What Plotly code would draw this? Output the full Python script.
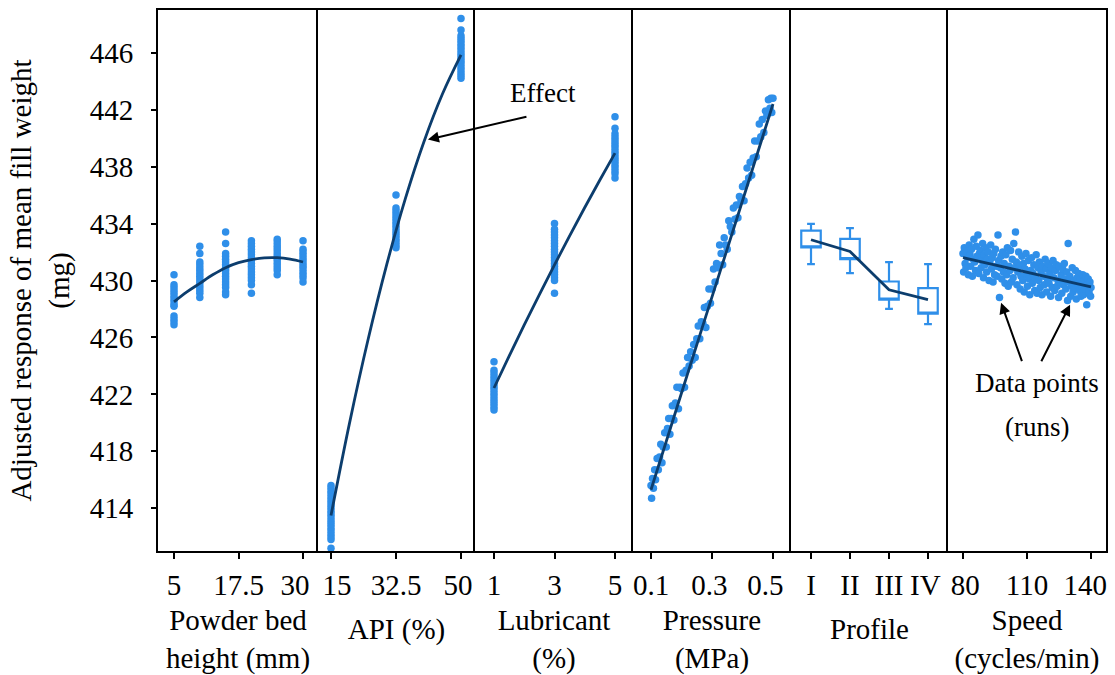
import plotly.graph_objects as go
from plotly.subplots import make_subplots

# ---------------- data ----------------
# Panel 1: powder bed height (mm)
pbh_x = [5]*14 + [10]*15 + [15]*17 + [20]*17 + [25]*13 + [30]*13
pbh_y = [430.4, 429.7, 429.5, 429.3, 429.1, 428.9, 428.7, 428.5, 428.3, 428.2, 427.5, 427.3, 427.1, 426.9,
         432.4, 431.9, 431.3, 431.1, 430.9, 430.7, 430.5, 430.3, 430.1, 429.9, 429.7, 429.5, 429.3, 429.1, 428.8,
         433.4, 432.6, 431.9, 431.7, 431.5, 431.3, 431.1, 430.9, 430.7, 430.5, 430.3, 430.1, 429.9, 429.7, 429.5, 429.2, 429.0,
         432.8, 432.6, 432.4, 432.2, 432.0, 431.8, 431.6, 431.4, 431.2, 431.0, 430.8, 430.6, 430.4, 430.2, 430.0, 429.7, 429.1,
         432.9, 432.7, 432.5, 432.3, 432.1, 431.9, 431.7, 431.5, 431.3, 431.1, 430.9, 430.7, 430.4,
         432.8, 432.2, 432.0, 431.8, 431.6, 431.4, 431.2, 431.0, 430.8, 430.6, 430.4, 430.2, 429.9]
pbh_fit_x = [5, 7.5, 10, 12.5, 15, 17.5, 20, 22.5, 25, 27.5, 30]
pbh_fit_y = [428.5, 429.2, 429.8, 430.4, 430.9, 431.25, 431.47, 431.59, 431.6, 431.5, 431.3]

# Panel 2: API (%)
api_x = [15]*21 + [32.5]*16 + [50]*18
api_y = [415.6, 415.4, 415.2, 415.0, 414.8, 414.6, 414.4, 414.2, 414.0, 413.8, 413.6, 413.4, 413.2, 413.0,
         412.8, 412.6, 412.4, 412.2, 412.0, 411.8, 411.2,
         436.0, 435.1, 434.9, 434.7, 434.5, 434.3, 434.1, 433.9, 433.7, 433.5, 433.3, 433.1, 432.9, 432.7, 432.5, 432.3,
         448.4, 447.6, 447.2, 447.0, 446.8, 446.6, 446.4, 446.2, 446.0, 445.8, 445.6, 445.4, 445.2, 445.0,
         444.8, 444.6, 444.4, 444.2]
api_fit_x = [15, 20, 25, 30, 35, 40, 45, 50]
api_fit_y = [413.5, 420.0, 425.87, 431.11, 435.73, 439.73, 443.1, 445.85]

# Panel 3: lubricant (%)
lub_x = [1]*16 + [3]*21 + [5]*18
lub_y = [424.3, 423.7, 423.5, 423.3, 423.1, 422.9, 422.7, 422.5, 422.3, 422.1, 421.9, 421.7, 421.5, 421.3, 421.1, 420.9,
         434.0, 433.6, 433.4, 433.2, 433.0, 432.8, 432.6, 432.4, 432.2, 432.0, 431.8, 431.6, 431.4, 431.2, 431.0,
         430.8, 430.6, 430.4, 430.2, 430.0, 429.1,
         441.5, 440.7, 440.3, 440.1, 439.9, 439.7, 439.5, 439.3, 439.1, 438.9, 438.7, 438.5, 438.3, 438.1,
         437.9, 437.7, 437.5, 437.2]
lub_fit_x = [1, 1.5, 2, 2.5, 3, 3.5, 4, 4.5, 5]
lub_fit_y = [422.45, 424.69, 426.88, 429.01, 431.1, 433.14, 435.13, 437.06, 438.95]

# Panel 4: pressure (MPa)
pre_x = [0.100, 0.102, 0.105, 0.108, 0.112, 0.115, 0.120, 0.124, 0.128, 0.132, 0.136, 0.140, 0.145, 0.150,
         0.154, 0.158, 0.162, 0.166, 0.170, 0.175, 0.180, 0.185, 0.190, 0.195, 0.200, 0.205, 0.210, 0.215,
         0.220, 0.225, 0.230, 0.235, 0.240, 0.245, 0.250, 0.255, 0.260, 0.265, 0.270, 0.275, 0.280, 0.285,
         0.290, 0.295, 0.300, 0.305, 0.310, 0.315, 0.320, 0.325, 0.330, 0.335, 0.340, 0.345, 0.350, 0.355,
         0.360, 0.365, 0.370, 0.375, 0.380, 0.385, 0.390, 0.395, 0.400, 0.405, 0.410, 0.415, 0.420, 0.425,
         0.430, 0.435, 0.440, 0.445, 0.450, 0.455, 0.460, 0.465, 0.470, 0.475, 0.480, 0.485, 0.490, 0.493,
         0.496, 0.500]
pre_y = [415.6, 414.7, 416.1, 415.4, 416.7, 416.0, 417.5, 416.7, 417.6, 418.5, 417.2, 418.3, 419.3, 418.3,
         419.6, 420.3, 419.2, 420.3, 421.2, 420.2, 421.4, 422.5, 421.0, 422.5, 422.4, 423.5, 422.5, 423.7,
         424.6, 424.0, 425.0, 424.4, 425.5, 424.6, 425.9, 426.8, 425.9, 427.1, 427.0, 428.1, 426.7, 428.2,
         429.4, 428.4, 429.4, 430.8, 429.9, 431.2, 430.9, 432.5, 431.9, 431.1, 433.0, 432.5, 432.2, 434.2,
         433.8, 433.4, 435.1, 434.3, 435.3, 434.4, 435.9, 435.6, 436.6, 435.6, 436.8, 437.9, 437.2, 438.3,
         437.4, 438.6, 439.8, 438.7, 439.8, 441.0, 440.1, 441.3, 440.4, 441.9, 441.6, 442.7, 442.1, 442.8,
         441.8, 442.8]
pre_fit_x = [0.1, 0.2, 0.3, 0.4, 0.5]
pre_fit_y = [415.3, 422.1, 428.85, 435.6, 442.4]

# Panel 5: profile (box summaries)
prof_x = [1, 2, 3, 4]
prof_labels = ["I", "II", "III", "IV"]
prof_low = [431.15, 430.52, 428.0, 426.94]
prof_q1 = [432.32, 431.5, 428.65, 427.67]
prof_q3 = [433.5, 432.93, 429.93, 429.47]
prof_high = [433.98, 433.68, 431.29, 431.15]
prof_fit_y = [432.86, 432.04, 429.35, 428.65]

# Panel 6: speed (cycles/min)
spd_x = [80.0, 80.3, 80.6, 81.0, 81.4, 81.8, 82.2, 82.5, 82.9, 83.3, 83.6, 84.0, 84.4, 84.8, 85.1, 85.5,
         85.9, 86.2, 86.6, 87.0, 87.4, 87.7, 88.1, 88.5, 88.8, 89.2, 89.6, 90.0, 90.3, 90.7, 91.1, 91.5,
         91.8, 92.2, 92.6, 93.0, 93.3, 93.7, 94.1, 94.4, 94.8, 95.2, 95.6, 96.0, 96.4, 96.7, 97.1, 97.5,
         97.8, 98.2, 98.6, 99.0, 99.3, 99.7, 100.1, 100.5, 100.8, 101.2, 101.6, 102.0, 102.3, 102.7, 103.1,
         103.5, 103.8, 104.2, 104.6, 105.0, 105.3, 105.7, 106.1, 106.5, 106.8, 107.2, 107.6, 108.0, 108.3,
         108.7, 109.1, 109.5, 109.8, 110.2, 110.6, 111.0, 111.3, 111.7, 112.1, 112.5, 112.8, 113.2, 113.6,
         114.0, 114.3, 114.7, 115.1, 115.5, 115.8, 116.2, 116.6, 117.0, 117.3, 117.7, 118.1, 118.5, 118.8,
         119.2, 119.6, 120.0, 120.3, 120.7, 121.1, 121.5, 121.8, 122.2, 122.6, 123.0, 123.3, 123.7, 124.1,
         124.5, 124.8, 125.2, 125.6, 126.0, 126.3, 126.7, 127.1, 127.5, 127.8, 128.2, 128.6, 129.0, 129.3,
         129.7, 130.1, 130.5, 130.8, 131.2, 131.6, 132.0, 132.3, 132.7, 133.1, 133.5, 133.8, 134.2, 134.6,
         135.0, 135.3, 135.7, 136.1, 136.5, 136.8, 137.2, 137.6, 138.0, 138.3, 138.7, 139.1, 139.5, 139.8,
         140.0]
spd_y = [431.9, 430.6, 432.3, 431.2, 430.9, 432.0, 431.6, 430.4, 432.5, 431.8, 431.0, 432.2, 430.3, 431.5,
         432.9, 431.3, 430.7, 432.4, 431.7, 433.2, 430.5, 431.9, 432.1, 430.9, 431.4, 432.6, 430.2, 431.8,
         431.1, 432.3, 430.6, 431.5, 432.0, 430.0, 431.3, 432.5, 430.8, 431.6, 429.9, 431.9, 430.4, 432.2,
         431.0, 430.3, 433.2, 431.4, 428.8, 430.9, 431.7, 430.1, 432.0, 430.6, 431.2, 429.8, 431.8, 430.4,
         432.3, 429.6, 431.0, 430.7, 432.1, 429.9, 431.5, 430.2, 432.6, 430.9, 433.4, 431.3, 429.7, 430.6,
         432.0, 431.0, 429.4, 430.3, 431.7, 430.0, 431.2, 429.2, 430.8, 431.9, 430.4, 429.6, 431.4, 430.1,
         429.0, 430.7, 431.6, 429.8, 430.5, 431.1, 429.3, 430.2, 431.8, 429.1, 430.9, 430.0, 431.3, 429.5,
         430.6, 429.0, 431.0, 430.3, 429.7, 431.5, 430.8, 429.2, 430.1, 431.2, 429.8, 430.5, 428.9, 430.9,
         429.5, 431.4, 430.2, 429.3, 430.7, 431.1, 429.6, 430.0, 428.8, 431.0, 429.9, 430.4, 429.1, 430.8,
         429.7, 431.2, 430.1, 429.4, 430.6, 428.6, 432.6, 429.9, 430.3, 428.9, 429.6, 430.9, 429.2, 430.0,
         429.5, 430.7, 428.7, 430.2, 429.8, 430.5, 429.3, 430.1, 428.9, 429.6, 430.4, 429.0, 430.0, 429.4,
         430.3, 428.3, 429.7, 430.1, 429.2, 429.9, 428.9, 429.5]
spd_fit_x = [80, 140]
spd_fit_y = [431.6, 429.55]

# axis setup
x_titles = ["Powder bed<br>height (mm)", "API (%)", "Lubricant<br>(%)", "Pressure<br>(MPa)",
            "Profile", "Speed<br>(cycles/min)"]
x_ranges = [[1.9, 32.9], [11.5, 53.77], [0.372, 5.595], [0.041, 0.559], [0.487, 4.513], [72.97, 147.03]]
# tick marks (regular spacing: first tick, step)
x_tick0 = [5, 15, 1, 0.1, 1, 80]
x_dtick = [12.5, 17.5, 2, 0.2, 1, 30]
# label centres (slightly nudged where neighbouring labels would collide)
x_labelpos = [[5.0001, 17.5001, 28.45], [16.62, 32.5001, 49.19], [1.0001, 3.0001, 5.0001],
              [0.10001, 0.2911, 0.4748], [1.0001, 2.0001, 3.0001, 3.93], [81.08, 110.0001, 137.33]]
x_ticktext = [["5", "17.5", "30"], ["15", "32.5", "50"], ["1", "3", "5"], ["0.1", "0.3", "0.5"],
              prof_labels, ["80", "110", "140"]]
y_tickvals = [414, 418, 422, 426, 430, 434, 438, 442, 446]

DOT = "#2f8fe9"
LINE = "#0c3d6d"
FONT = "Liberation Serif"

fig = make_subplots(rows=1, cols=6, shared_yaxes=True, horizontal_spacing=0,
                    column_widths=[160, 157, 158, 158, 157, 158])

def dots(x, y, col):
    fig.add_trace(go.Scatter(x=x, y=y, mode="markers",
                             marker=dict(color=DOT, size=7.5, line=dict(width=0)),
                             hoverinfo="skip"), row=1, col=col)

def fit(x, y, col, shape="spline"):
    fig.add_trace(go.Scatter(x=x, y=y, mode="lines",
                             line=dict(color=LINE, width=2.8, shape=shape),
                             hoverinfo="skip"), row=1, col=col)

dots(pbh_x, pbh_y, 1); fit(pbh_fit_x, pbh_fit_y, 1)
dots(api_x, api_y, 2); fit(api_fit_x, api_fit_y, 2)
dots(lub_x, lub_y, 3); fit(lub_fit_x, lub_fit_y, 3)
dots(pre_x, pre_y, 4); fit(pre_fit_x, pre_fit_y, 4)

fig.add_trace(go.Box(x=prof_x, q1=prof_q1, median=prof_q1, q3=prof_q3,
                     lowerfence=prof_low, upperfence=prof_high,
                     width=0.5, whiskerwidth=0.4, boxpoints=False,
                     fillcolor="rgba(255,255,255,0)",
                     line=dict(color=DOT, width=2.2), hoverinfo="skip"), row=1, col=5)
fit(prof_x, prof_fit_y, 5, shape="linear")

dots(spd_x, spd_y, 6); fit(spd_fit_x, spd_fit_y, 6, shape="linear")

for i in range(6):
    fig.update_xaxes(row=1, col=i + 1, range=x_ranges[i], tickmode="array",
                     tickvals=x_labelpos[i], ticktext=x_ticktext[i], ticks="",
                     ticklabelstandoff=7, ticklabeloverflow="allow",
                     minor=dict(ticks="outside", tick0=x_tick0[i], dtick=x_dtick[i], ticklen=6,
                                tickwidth=1.5, tickcolor="black", showgrid=False),
                     showline=True, mirror=True, linecolor="black",
                     linewidth=2, showgrid=False, zeroline=False, automargin=False,
                     tickfont=dict(family=FONT, size=29, color="black"),
                     title=dict(text=x_titles[i], standoff=19,
                                font=dict(family=FONT, size=29, color="black")))
    fig.update_yaxes(row=1, col=i + 1, range=[411, 449], showline=True, mirror=False,
                     linecolor="black", linewidth=1.5, showgrid=False, zeroline=False,
                     automargin=False)

fig.update_yaxes(row=1, col=1, tickvals=y_tickvals, ticks="outside", ticklen=5, tickwidth=1.5,
                 tickcolor="black", linewidth=2, ticklabelstandoff=12,
                 tickfont=dict(family=FONT, size=29, color="black"),
                 title=dict(text="Adjusted response of mean fill weight<br>(mg)", standoff=12,
                            font=dict(family=FONT, size=29, color="black")))
for i in range(2, 7):
    fig.update_yaxes(row=1, col=i, ticks="", showticklabels=False)
fig.update_yaxes(row=1, col=6, mirror=True)

ann_font = dict(family=FONT, size=27, color="black")
tiny = dict(family=FONT, size=1, color="black")
fig.add_annotation(x=41.1, y=439.9, xref="x2", yref="y2", text="", showarrow=True, font=tiny,
                   borderpad=0, ax=99, ay=-23, arrowhead=2, arrowsize=1.1, arrowwidth=2,
                   arrowcolor="black")
fig.add_annotation(x=(543 - 158) / 948, y=(551 - 93) / 541, xref="paper", yref="paper",
                   xanchor="center", yanchor="middle", text="Effect", showarrow=False, font=ann_font)
fig.add_annotation(x=97.85, y=428.44, xref="x6", yref="y6", text="", showarrow=True, font=tiny,
                   borderpad=0, ax=21, ay=59, arrowhead=2, arrowsize=1.1, arrowwidth=2,
                   arrowcolor="black")
fig.add_annotation(x=130.2, y=428.3, xref="x6", yref="y6", text="", showarrow=True, font=tiny,
                   borderpad=0, ax=-29, ay=57, arrowhead=2, arrowsize=1.1, arrowwidth=2,
                   arrowcolor="black")
fig.add_annotation(x=(1037 - 158) / 948, y=(551 - 383) / 541, xref="paper", yref="paper",
                   xanchor="center", yanchor="middle", text="Data points", showarrow=False,
                   font=ann_font)
fig.add_annotation(x=(1037 - 158) / 948, y=(551 - 427) / 541, xref="paper", yref="paper",
                   xanchor="center", yanchor="middle", text="(runs)", showarrow=False,
                   font=ann_font)

fig.update_layout(width=1115, height=675, margin=dict(l=158, r=9, t=10, b=124),
                  plot_bgcolor="white", paper_bgcolor="white", showlegend=False,
                  font=dict(family=FONT, size=29, color="black"))

fig.write_html("out.html")
